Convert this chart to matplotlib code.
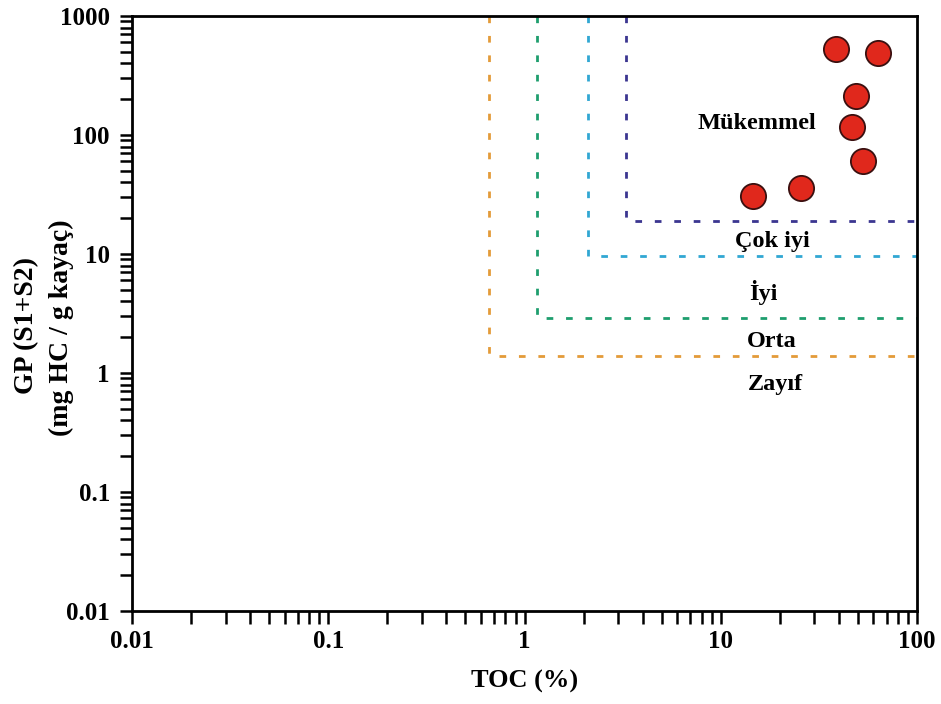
import matplotlib
matplotlib.use("Agg")
import matplotlib.pyplot as plt
from matplotlib.ticker import LogLocator, NullFormatter, FixedLocator, FixedFormatter

plt.rcParams['font.family'] = ['Liberation Serif', 'DejaVu Serif']
plt.rcParams['font.weight'] = 'bold'

# samples: TOC (%) and GP (S1+S2, mg HC / g kayaç)
toc = [38.5, 63.5, 48.6, 46.4, 52.8, 25.5, 14.6]
gp = [527, 485, 211, 117, 60.5, 35.6, 30.7]

# class boundaries (TOC limit, GP limit) from poor to excellent
bound_toc = [0.66, 1.16, 2.1, 3.3]
bound_gp = [1.4, 2.9, 9.7, 19]
bound_colors = ['#E39B39', '#1E9E6E', '#31A7D3', '#3B3690']

# class names and where they are written
class_names = ['Mükemmel', 'Çok iyi', 'İyi', 'Orta', 'Zayıf']
class_x = [15.3, 18.4, 16.4, 18.2, 18.9]
class_y = [125, 12.8, 4.75, 1.84, 0.8]

ticks = [0.01, 0.1, 1, 10, 100, 1000]
tick_labels = ['0.01', '0.1', '1', '10', '100', '1000']

fig = plt.figure(figsize=(9.41, 7.04), dpi=100)
ax = fig.add_axes([0.1403, 0.1321, 0.8342, 0.8452])
ax.set_xscale('log')
ax.set_yscale('log')
ax.set_xlim(0.01, 100)
ax.set_ylim(0.01, 1000)

for bx, by, c in zip(bound_toc, bound_gp, bound_colors):
    ax.plot([bx, bx, 100], [1000, by, by], color=c, lw=2.0,
            dashes=(2.4, 4.6), solid_capstyle='butt', clip_on=False, zorder=2)

ax.scatter(toc, gp, s=330, color='#E0281C', edgecolors='#3a1010',
           linewidths=1.3, zorder=3)

for name, x, y in zip(class_names, class_x, class_y):
    ax.text(x, y, name, ha='center', va='center', fontsize=17.5,
            fontweight='bold')

ax.xaxis.set_major_locator(FixedLocator(ticks[:5]))
ax.xaxis.set_major_formatter(FixedFormatter(tick_labels[:5]))
ax.yaxis.set_major_locator(FixedLocator(ticks))
ax.yaxis.set_major_formatter(FixedFormatter(tick_labels))
for axis in (ax.xaxis, ax.yaxis):
    axis.set_minor_locator(LogLocator(base=10, subs=range(2, 10), numticks=20))
    axis.set_minor_formatter(NullFormatter())

ax.tick_params(which='both', direction='out', length=9, width=1.8,
               labelsize=18)
ax.tick_params(axis='x', which='both', pad=5)
ax.tick_params(axis='y', which='both', pad=7)
ax.tick_params(axis='both', which='both', top=False, right=False)
for t in ax.get_xticklabels() + ax.get_yticklabels():
    t.set_fontweight('bold')
for s in ax.spines.values():
    s.set_linewidth(2.0)

ax.set_xlabel('TOC (%)', fontsize=19, fontweight='bold', labelpad=12)

# y label as two rotated lines placed in figure pixels
fig.text(27 / 941, 0.538, 'GP (S1+S2)', rotation=90, ha='center',
         va='center', fontsize=20, fontweight='bold')
fig.text(61 / 941, 0.535, '(mg HC / g kayaç)', rotation=90, ha='center',
         va='center', fontsize=20, fontweight='bold')

fig.savefig('out.png', dpi=100)
